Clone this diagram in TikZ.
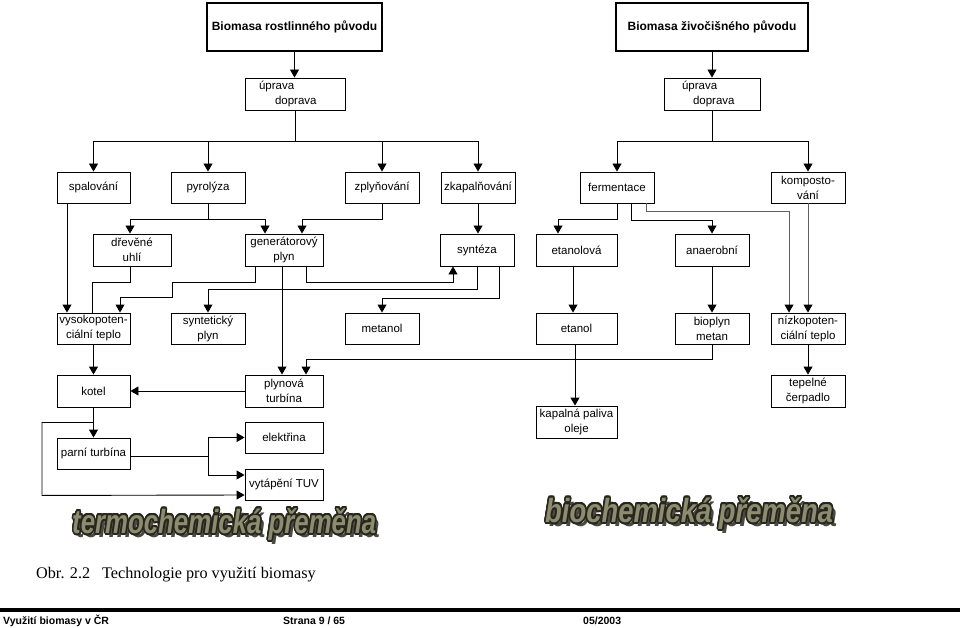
\documentclass[tikz,border=0pt]{standalone}
\usepackage{fontspec}
\setmainfont{Liberation Sans}
\newfontfamily\capfont{Liberation Serif}
\usepackage{graphicx}
\usepackage[copies]{contour}
\usetikzlibrary{arrows.meta}
\definecolor{artfill}{HTML}{8C8C70}
\definecolor{artline}{HTML}{26261C}
\definecolor{artshadow}{HTML}{4A4A40}
\definecolor{lightline}{HTML}{606060}
\contourlength{0.6pt}
\newcommand{\wordart}[1]{{\bfseries\itshape\makebox[0pt][l]{\raisebox{-1.4pt}{\hspace{1.4pt}\textcolor{artshadow}{#1}}}\color{artfill}\contour{artline}{#1}}}
\tikzset{
  box/.style={draw, line width=0.9pt, inner sep=0pt, minimum height=31pt, align=center,
    font=\fontsize{11.5}{15}\selectfont},
  bigbox/.style={draw, line width=2pt, inner sep=0pt, minimum height=48pt,
    font=\fontsize{12}{14}\selectfont\bfseries},
  arr/.style={line width=0.9pt, -{Triangle[length=8pt,width=9pt,color=black]}},
  ln/.style={line width=0.9pt},
}
\begin{document}
\begin{tikzpicture}[x=1pt,y=-1pt]
\fill[white] (0,0) rectangle (960,628);
\useasboundingbox (0,0) rectangle (960,628);

% top boxes
\node[bigbox, minimum width=175pt] (b1) at (294.5,27) {Biomasa rostlinného původu};
\node[bigbox, minimum width=192pt] (b2) at (712,27) {Biomasa živočišného původu};
\node[box, minimum width=100pt, minimum height=32pt, text width=72pt, align=left] (up1) at (295,94) {úprava\\\hspace*{16pt}doprava};
\node[box, minimum width=96pt, minimum height=32pt, text width=60pt, align=left] (up2) at (712,94) {úprava\\\hspace*{11pt}doprava};

% row 1
\node[box, minimum width=73pt] (spal) at (93.5,187.5) {spalování};
\node[box, minimum width=74pt] (pyro) at (208,187.5) {pyrolýza};
\node[box, minimum width=74pt] (zply) at (382,187.5) {zplyňování};
\node[box, minimum width=74pt] (zkap) at (478,187.5) {zkapalňování};
\node[box, minimum width=74pt] (ferm) at (617,187.5) {fermentace};
\node[box, minimum width=74pt] (komp) at (808,187.5) {komposto-\\vání};

% row 2
\node[box, minimum width=78pt, minimum height=32pt] (drev) at (132,250) {dřevěné\\uhlí};
\node[box, minimum width=78pt, minimum height=32pt] (gen) at (284,250) {generátorový\\plyn};
\node[box, minimum width=74pt, minimum height=32pt] (synt) at (477,250) {syntéza};
\node[box, minimum width=81pt, minimum height=32pt] (etv) at (576.5,250) {etanolová};
\node[box, minimum width=74pt, minimum height=32pt] (anae) at (712,250) {anaerobní};

% row 3
\node[box, minimum width=73pt] (vys) at (93.5,328.5) {vysokopoten-\\ciální teplo};
\node[box, minimum width=74pt] (synp) at (208,328.5) {syntetický\\plyn};
\node[box, minimum width=74pt] (meta) at (382,328.5) {metanol};
\node[box, minimum width=81pt] (etan) at (576.5,328.5) {etanol};
\node[box, minimum width=74pt] (biop) at (712,328.5) {bioplyn\\metan};
\node[box, minimum width=74pt] (nizk) at (808,328.5) {nízkopoten-\\ciální teplo};

% row 4
\node[box, minimum width=73pt, minimum height=32pt] (kotel) at (93.5,391) {kotel};
\node[box, minimum width=78pt, minimum height=32pt] (plyt) at (284,391) {plynová\\turbína};
\node[box, minimum width=74pt, minimum height=32pt] (tepc) at (808,391) {tepelné\\čerpadlo};
\node[box, minimum width=81pt, minimum height=32pt] (kapa) at (576.5,422) {kapalná paliva\\oleje};

% row 5
\node[box, minimum width=78pt] (elek) at (284,437.5) {elektřina};
\node[box, minimum width=73pt] (parn) at (93.5,453.5) {parní turbína};
\node[box, minimum width=78pt] (vyta) at (284,484.5) {vytápění TUV};

% connectors top
\draw[arr] (b1.south) -- (b1.south |- up1.north);
\draw[arr] (b2.south) -- (b2.south |- up2.north);
\draw[arr] (up1.south) -- ++(0,31) -| (spal.north);
\draw[arr] (up1.south) -- ++(0,31) -| (pyro.north);
\draw[arr] (up1.south) -- ++(0,31) -| (zply.north);
\draw[arr] (up1.south) -- ++(0,31) -| (zkap.north);
\draw[arr] (up2.south) -- ++(0,31) -| (ferm.north);
\draw[arr] (up2.south) -- ++(0,31) -| (komp.north);

% thermochemical branch
\draw[arr] (pyro.south) -- ++(0,16) -| ([xshift=-2pt]drev.north);
\draw[arr] (pyro.south) -- ++(0,16) -| ([xshift=-19pt]gen.north);
\draw[arr] (zply.south) -- ++(0,16) -| ([xshift=18pt]gen.north);
\draw[arr] (zkap.south) -- (zkap.south |- synt.north);
\draw[arr] ([xshift=-26.5pt]spal.south) -- ([xshift=-26.5pt]vys.north);
\draw[ln] ([xshift=-2pt]drev.south) -- ++(0,16) -| ([xshift=-1.5pt]vys.north);
\draw[arr] ([xshift=-29pt]gen.south) -- ++(0,16) -- ++(-83,0) -- ++(0,15) -| ([xshift=26.5pt]vys.north);
\draw[arr] ([xshift=-2pt]gen.south) -- ([xshift=-2pt]plyt.north);
\draw[arr] ([xshift=22pt]gen.south) -- ++(0,16) -| ([xshift=-24pt]synt.south);
\draw[arr] (synt.south) -- ++(0,23) -| (synp.north);
\draw[arr] ([xshift=22pt]synt.south) -- ++(0,32) -| (meta.north);
\draw[arr] (vys.south) -- (kotel.north);
\draw[arr] (plyt.west) -- (kotel.east);
\draw[arr] (kotel.south) -- (parn.north);
\draw[arr] (kotel.south) -- ++(0,15) -- ++(-51.5,0) -- ++(0,73) -- ([yshift=-10.5pt]vyta.west);
\draw[arr] ([yshift=-2.5pt]parn.east) -- ++(78,0) |- (elek.west);
\draw[arr] ([yshift=-2.5pt]parn.east) -- ++(78,0) |- ([yshift=9.5pt]vyta.west);

% biochemical branch
\draw[arr] (ferm.south) -- ++(0,16) -| ([xshift=-18.5pt]etv.north);
\draw[arr] ([xshift=14pt]ferm.south) -- ++(0,17) -| (anae.north);
\draw[arr, lightline] ([xshift=29pt]ferm.south) -- ++(0,8) -| ([xshift=-19pt]nizk.north);
\draw[arr, lightline] (komp.south) -- (nizk.north);
\draw[arr] ([xshift=-3.5pt]etv.south) -- ([xshift=-3.5pt]etan.north);
\draw[arr] ([xshift=-1.5pt]etan.south) -- ([xshift=-1.5pt]kapa.north);
\draw[arr] (anae.south) -- (biop.north);
\draw[arr] (nizk.south) -- (tepc.north);
\draw[arr] (biop.south) -- ++(0,15) -| ([xshift=22pt]plyt.north);

% word-art labels
\node[anchor=north west, inner sep=0pt] (wa1) at (72,508) {\resizebox{304pt}{25pt}{\wordart{termochemická přeměna}}};
\node[anchor=north west, inner sep=0pt] (wa2) at (545,497) {\resizebox{288pt}{25pt}{\wordart{biochemická přeměna}}};

% caption
\node[anchor=base west, inner sep=0pt, font=\capfont\fontsize{16.2}{18}\selectfont] (cap) at (36,578) {Obr. 2.2\hspace{12pt}Technologie pro využití biomasy};

% footer
\draw[line width=3.5pt] (0,610) -- (960,610);
\node[anchor=base west, inner sep=0pt, font=\fontsize{10.5}{12}\selectfont\bfseries] (f1) at (3,624) {Využití biomasy v ČR};
\node[anchor=base west, inner sep=0pt, font=\fontsize{10.5}{12}\selectfont\bfseries] (f2) at (283,624) {Strana 9 / 65};
\node[anchor=base west, inner sep=0pt, font=\fontsize{10.5}{12}\selectfont\bfseries] (f3) at (583,624) {05/2003};
\end{tikzpicture}
\end{document}
